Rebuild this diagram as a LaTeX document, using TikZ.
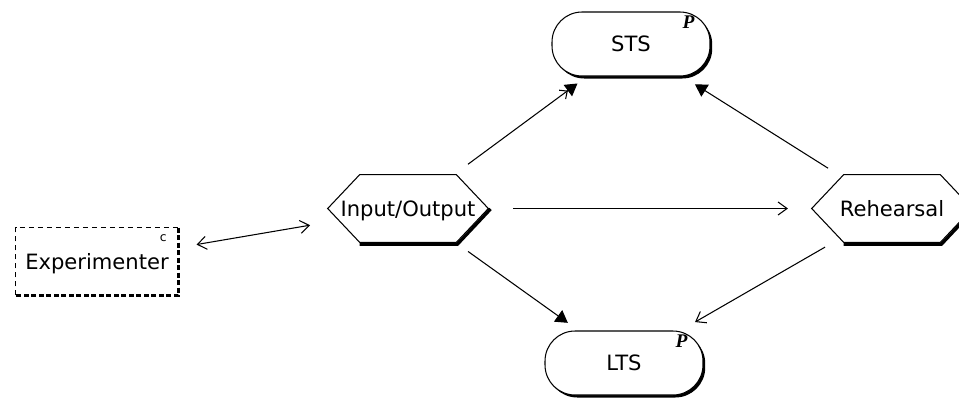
\documentclass[tikz,border=0pt]{standalone}
\usepackage{fontspec}
\setmainfont{DejaVu Sans}
\newfontfamily\markfont{Liberation Serif}
\usetikzlibrary{arrows.meta, calc, shadows}

% hexagonal process outline with a heavy lower edge
\newcommand{\hexframe}[1]{%
  \draw[hexline] (#1.west) -- ([xshift=0.64cm]#1.north west) -- ([xshift=-0.64cm]#1.north east)
    -- (#1.east) -- ([xshift=-0.64cm]#1.south east) -- ([xshift=0.64cm]#1.south west) -- cycle;
  \draw[hexshadow] ([xshift=0.64cm, yshift=-0.04cm]#1.south west) -- ([xshift=-0.62cm, yshift=-0.04cm]#1.south east)
    -- ([xshift=0.045cm, yshift=-0.01cm]#1.east);
}

\begin{document}
\begin{tikzpicture}[
    x=0.02cm, y=-0.02cm,
    font=\fontsize{12}{14}\selectfont,
    % Node styles
    store/.style={rectangle, draw, line width=0.6pt, rounded corners=0.6cm, fill=white, minimum width=3.16cm, minimum height=1.28cm,
        text height=8.8pt, text depth=0pt, general shadow={fill=black, shadow xshift=0.045cm, shadow yshift=-0.05cm}},
    process/.style={rectangle, minimum width=3.2cm, minimum height=1.34cm, inner sep=0pt, text height=8.8pt, text depth=0pt},
    actor/.style={rectangle, minimum width=3.24cm, minimum height=1.34cm, text height=8.8pt, text depth=0pt},
    marker/.style={font=\markfont\bfseries\itshape\fontsize{11}{11}\selectfont, inner sep=0pt},
    hexline/.style={line width=0.6pt},
    hexshadow/.style={line width=1.8pt},
    % Connector styles
    flow/.style={-{Straight Barb[length=0.18cm, width=0.26cm]}, line width=0.6pt},
    twoway/.style={{Straight Barb[length=0.18cm, width=0.26cm]}-{Straight Barb[length=0.18cm, width=0.26cm]}, line width=0.6pt},
    trigger/.style={-{Triangle[length=0.24cm, width=0.28cm]}, line width=0.6pt},
]
\useasboundingbox (0,0) rectangle (959,397);

% ============================================================================
% STORES
% ============================================================================
\node[store] (sts) at (631,44) {STS};
\node[marker] (stsp) at ([xshift=-0.44cm, yshift=-0.22cm]sts.north east) {P};

\node[store] (lts) at (624,363) {LTS};
\node[marker] (ltsp) at ([xshift=-0.44cm, yshift=-0.22cm]lts.north east) {P};

% ============================================================================
% PROCESSES
% ============================================================================
\node[process] (io) at (408,208.5) {Input/Output};
\hexframe{io}

\node[process] (reh) at (892,208.5) {Rehearsal};
\hexframe{reh}

% ============================================================================
% EXTERNAL ACTOR
% ============================================================================
\node[actor] (exp) at (97,261.5) {Experimenter};
\draw[line width=0.5pt, dash pattern=on 0.1cm off 0.08cm] (exp.south west) -- (exp.north west) -- (exp.north east);
\draw[line width=1.6pt, dash pattern=on 0.1cm off 0.05cm] (exp.north east) -- (exp.south east) -- (exp.south west);
\node[font=\fontsize{7}{7}\selectfont, inner sep=0pt] (expc) at ([xshift=-0.3cm, yshift=-0.2cm]exp.north east) {c};

% ============================================================================
% CONNECTORS
% ============================================================================
\draw[twoway] ($(exp)!0.32!(io)$) -- ($(exp)!0.685!(io)$);
\draw[flow] ($(io)!0.217!(reh)$) -- ($(io)!0.785!(reh)$);

\draw[-{Straight Barb[length=0.12cm, width=0.22cm] Triangle[length=0.24cm, width=0.28cm]}, line width=0.6pt]
    ($(io)!0.269!(sts)$) -- ($(io)!0.76!(sts)$);
\draw[trigger] ($(reh)!0.245!(sts)$) -- ($(reh)!0.755!(sts)$);
\draw[trigger] ($(io)!0.278!(lts)$) -- ($(io)!0.74!(lts)$);
\draw[flow] ($(reh)!0.25!(lts)$) -- ($(reh)!0.735!(lts)$);

\end{tikzpicture}
\end{document}
